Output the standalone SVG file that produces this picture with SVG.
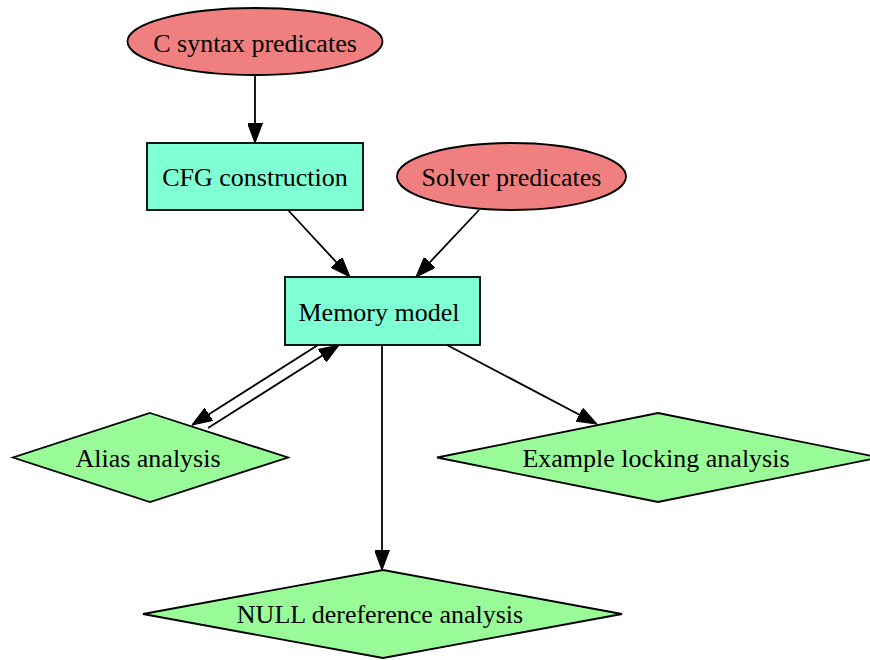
<svg xmlns="http://www.w3.org/2000/svg" width="870" height="660" viewBox="0 0 870 660">
<style>
  .lbl { font-family: "Liberation Serif", "Times New Roman", serif; font-size: 26px; fill: #000; text-anchor: middle; }
  .ell { fill: #f08080; stroke: #000; stroke-width: 1.8; }
  .box { fill: #7fffd4; stroke: #000; stroke-width: 1.8; }
  .dia { fill: #98fb98; stroke: #000; stroke-width: 1.8; }
  .edge { fill: none; stroke: #000; stroke-width: 1.8; marker-end: url(#arrow); }
</style>
<defs>
  <marker id="arrow" markerUnits="userSpaceOnUse" markerWidth="20" markerHeight="15" refX="20" refY="7.5" orient="auto" viewBox="0 0 20 15">
    <path d="M0,0 L20,7.5 L0,15 z" fill="#000" stroke="#000" stroke-width="1"/>
  </marker>
</defs>
<rect width="870" height="660" fill="#fff"/>
<g id="edges">
  <path class="edge" d="M255,75 L255,143"/>
  <path class="edge" d="M288,210 L350,277"/>
  <path class="edge" d="M479,210 L416,277"/>
  <path class="edge" d="M318,345 L192,425"/>
  <path class="edge" d="M208,428 L339,345"/>
  <path class="edge" d="M382,345 L382,570"/>
  <path class="edge" d="M447,345 L597,424"/>
</g>
<g id="c_syntax">
  <ellipse class="ell" cx="255" cy="41.5" rx="127.5" ry="33.5"/>
  <text class="lbl" x="255" y="52">C syntax predicates</text>
</g>
<g id="cfg">
  <rect class="box" x="147" y="143" width="216" height="67"/>
  <text class="lbl" x="255" y="186">CFG construction</text>
</g>
<g id="solver">
  <ellipse class="ell" cx="511.5" cy="176.5" rx="114.5" ry="33.5"/>
  <text class="lbl" x="511.5" y="186">Solver predicates</text>
</g>
<g id="memory">
  <rect class="box" x="285" y="277" width="195" height="68"/>
  <text class="lbl" x="379" y="321">Memory model</text>
</g>
<g id="alias">
  <polygon class="dia" points="150,413 288,457.5 150,502 13,457.5"/>
  <text class="lbl" x="148" y="467">Alias analysis</text>
</g>
<g id="locking">
  <polygon class="dia" points="658,413 879,457.5 658,502 437,457.5"/>
  <text class="lbl" x="656" y="467">Example locking analysis</text>
</g>
<g id="null">
  <polygon class="dia" points="383,570 622,614 383,658 143,614"/>
  <text class="lbl" x="380" y="623">NULL dereference analysis</text>
</g>
</svg>
